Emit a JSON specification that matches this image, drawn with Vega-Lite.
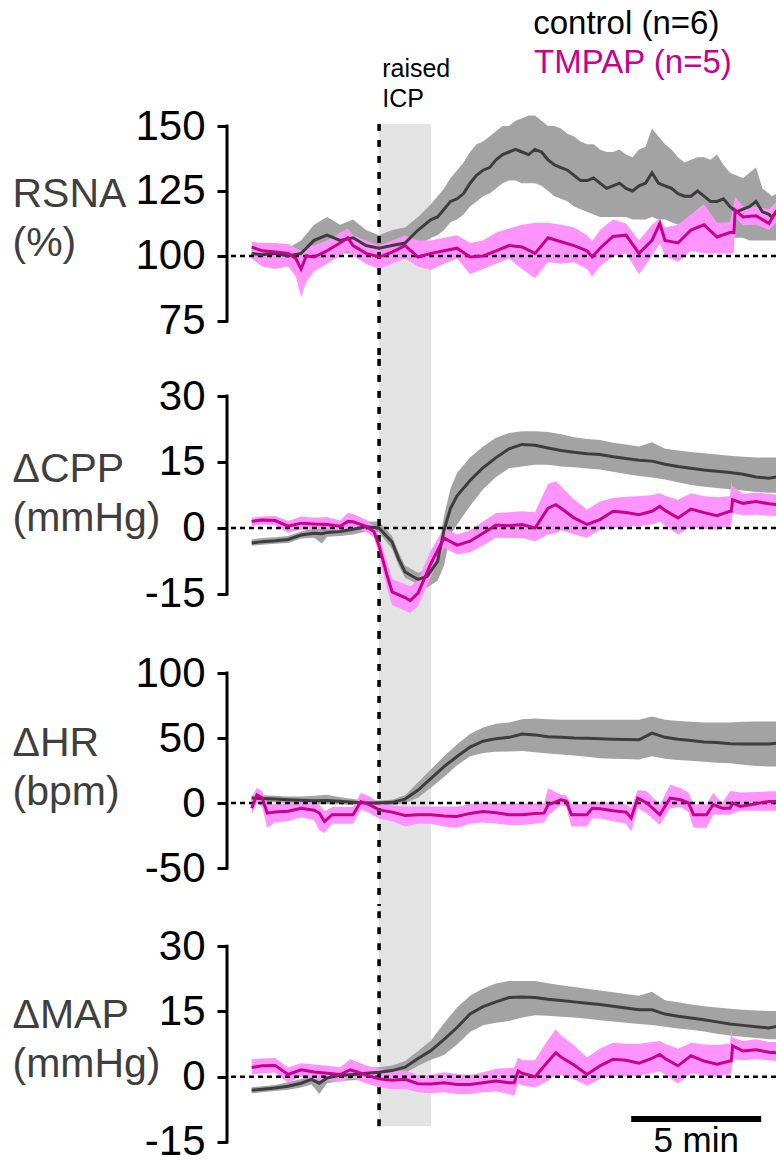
{
"$schema": "https://vega.github.io/schema/vega-lite/v6.json",
"padding": {"left": 12, "top": 8, "right": 0, "bottom": 0},
"background": "white",
"spacing": 0,
"bounds": "flush",
"datasets": {
"rsna_c": [
{"t":-4.9,"m":101,"lo":99,"hi":103},{"t":-4.5,"m":100.5,"lo":98.5,"hi":102.5},{"t":-4,"m":101,"lo":99,"hi":103},{"t":-3.5,"m":100,"lo":98,"hi":103},{"t":-3,"m":101,"lo":99,"hi":106},{"t":-2.5,"m":106,"lo":100,"hi":112},{"t":-2,"m":108,"lo":101,"hi":115},{"t":-1.5,"m":106,"lo":101,"hi":112},{"t":-1,"m":107,"lo":101,"hi":114},{"t":-0.5,"m":104,"lo":100,"hi":110},{"t":0,"m":103,"lo":99,"hi":108},{"t":0.5,"m":104,"lo":99,"hi":110},{"t":1,"m":105,"lo":100,"hi":111},{"t":1.5,"m":110,"lo":104,"hi":115},{"t":2,"m":114,"lo":107,"hi":120},{"t":2.25,"m":115,"lo":108,"hi":123},{"t":2.5,"m":118,"lo":110,"hi":126},{"t":2.75,"m":121,"lo":113,"hi":130},{"t":3,"m":122,"lo":114,"hi":133},{"t":3.25,"m":124,"lo":116,"hi":136},{"t":3.5,"m":128,"lo":119,"hi":140},{"t":3.75,"m":131,"lo":121,"hi":143},{"t":4,"m":133,"lo":123,"hi":144},{"t":4.25,"m":134,"lo":124,"hi":146},{"t":4.5,"m":137,"lo":126,"hi":148},{"t":4.75,"m":139,"lo":128,"hi":150},{"t":5,"m":140,"lo":129,"hi":150},{"t":5.25,"m":141,"lo":129,"hi":152},{"t":5.5,"m":140,"lo":128,"hi":153},{"t":5.75,"m":139,"lo":128,"hi":154},{"t":6,"m":141,"lo":128,"hi":154},{"t":6.25,"m":140,"lo":127,"hi":152},{"t":6.5,"m":137,"lo":125,"hi":150},{"t":6.75,"m":135,"lo":123,"hi":150},{"t":7,"m":134,"lo":122,"hi":149},{"t":7.25,"m":133,"lo":121,"hi":147},{"t":7.5,"m":131,"lo":119,"hi":146},{"t":7.75,"m":129,"lo":118,"hi":144},{"t":8,"m":129,"lo":117,"hi":143},{"t":8.25,"m":130,"lo":116,"hi":143},{"t":8.5,"m":128,"lo":115,"hi":141},{"t":8.75,"m":126,"lo":115,"hi":140},{"t":9,"m":127,"lo":115,"hi":140},{"t":9.25,"m":128,"lo":115,"hi":141},{"t":9.5,"m":126,"lo":115,"hi":139},{"t":9.75,"m":125,"lo":114,"hi":138},{"t":10,"m":127,"lo":114,"hi":141},{"t":10.25,"m":128,"lo":114,"hi":142},{"t":10.5,"m":132,"lo":115,"hi":149},{"t":10.75,"m":128,"lo":114,"hi":146},{"t":11,"m":127,"lo":114,"hi":143},{"t":11.25,"m":126,"lo":113,"hi":141},{"t":11.5,"m":124,"lo":112,"hi":138},{"t":11.75,"m":123,"lo":112,"hi":136},{"t":12,"m":123,"lo":111,"hi":137},{"t":12.25,"m":125,"lo":111,"hi":138},{"t":12.5,"m":123,"lo":110,"hi":138},{"t":12.75,"m":121,"lo":110,"hi":137},{"t":13,"m":121,"lo":109,"hi":139},{"t":13.25,"m":122,"lo":108,"hi":135},{"t":13.5,"m":119,"lo":107,"hi":132},{"t":13.75,"m":117,"lo":107,"hi":131},{"t":14,"m":118,"lo":107,"hi":130},{"t":14.25,"m":119,"lo":106,"hi":132},{"t":14.5,"m":121,"lo":106,"hi":134},{"t":14.75,"m":117,"lo":106,"hi":126},{"t":15,"m":116,"lo":106,"hi":124},{"t":15.1,"m":115,"lo":106,"hi":123},{"t":15.3,"m":117,"lo":106,"hi":124}
],
"rsna_m": [
{"t":-4.9,"m":103.4,"lo":99,"hi":105.5},{"t":-4.5,"m":102,"lo":96,"hi":105},{"t":-4,"m":101.5,"lo":95,"hi":105},{"t":-3.5,"m":101,"lo":96,"hi":104.6},{"t":-3.2,"m":99,"lo":92,"hi":103},{"t":-3,"m":95,"lo":84,"hi":102},{"t":-2.8,"m":100,"lo":90,"hi":104},{"t":-2.5,"m":99.6,"lo":94,"hi":104},{"t":-2,"m":102,"lo":97,"hi":106},{"t":-1.5,"m":105,"lo":100,"hi":109},{"t":-1.2,"m":107,"lo":102,"hi":110.6},{"t":-1,"m":104,"lo":100,"hi":108},{"t":-0.5,"m":101,"lo":97,"hi":106},{"t":0,"m":99.6,"lo":95,"hi":104},{"t":0.5,"m":101.5,"lo":97,"hi":106},{"t":1,"m":104,"lo":99,"hi":108},{"t":1.5,"m":99.6,"lo":96,"hi":106},{"t":2,"m":101,"lo":94.6,"hi":106},{"t":2.5,"m":102,"lo":97,"hi":107},{"t":3,"m":103,"lo":99,"hi":108},{"t":3.5,"m":99.6,"lo":93,"hi":105},{"t":4,"m":100,"lo":95,"hi":106},{"t":4.5,"m":102,"lo":97,"hi":109},{"t":5,"m":104,"lo":99,"hi":110.6},{"t":5.5,"m":103.5,"lo":95,"hi":112},{"t":6,"m":101,"lo":91.4,"hi":112.8},{"t":6.5,"m":107,"lo":97.7,"hi":112.8},{"t":7,"m":105.5,"lo":97,"hi":112},{"t":7.5,"m":104,"lo":97.6,"hi":111},{"t":8,"m":102,"lo":95,"hi":108},{"t":8.2,"m":99.6,"lo":92,"hi":105.8},{"t":8.5,"m":103,"lo":96,"hi":110},{"t":9,"m":107.5,"lo":100,"hi":114},{"t":9.5,"m":108,"lo":101,"hi":112.5},{"t":10,"m":101,"lo":93,"hi":106},{"t":10.5,"m":106,"lo":100,"hi":112},{"t":10.8,"m":112.5,"lo":105,"hi":114.3},{"t":11,"m":106,"lo":100,"hi":111},{"t":11.5,"m":105,"lo":97.7,"hi":112},{"t":12,"m":110,"lo":102,"hi":116},{"t":12.5,"m":112,"lo":101,"hi":120},{"t":13,"m":107.3,"lo":101,"hi":112.8},{"t":13.5,"m":109,"lo":101,"hi":113},{"t":13.65,"m":109,"lo":101,"hi":120},{"t":13.7,"m":117.6,"lo":115,"hi":122.8},{"t":14,"m":115,"lo":111.8,"hi":119},{"t":14.5,"m":115.5,"lo":112,"hi":119},{"t":15,"m":112.5,"lo":110,"hi":118},{"t":15.3,"m":117.6,"lo":113,"hi":121}
],
"cpp_c": [
{"t":-4.9,"m":-3.4,"lo":-4,"hi":-2.6},{"t":-4.5,"m":-3.1,"lo":-3.8,"hi":-2.3},{"t":-4,"m":-2.9,"lo":-3.6,"hi":-2.1},{"t":-3.5,"m":-2.6,"lo":-3.4,"hi":-1.8},{"t":-3,"m":-1.6,"lo":-2.4,"hi":-0.8},{"t":-2.5,"m":-1.2,"lo":-2.2,"hi":-0.2},{"t":-2.2,"m":-1.3,"lo":-3.5,"hi":-0.2},{"t":-2,"m":-1,"lo":-2,"hi":0},{"t":-1.5,"m":-0.8,"lo":-1.8,"hi":0.3},{"t":-1,"m":-0.3,"lo":-1.5,"hi":0.8},{"t":-0.5,"m":0.3,"lo":-0.8,"hi":1.5},{"t":0,"m":0,"lo":-1,"hi":1.5},{"t":0.5,"m":-3.2,"lo":-4.8,"hi":-1.8},{"t":0.75,"m":-7,"lo":-8.5,"hi":-5.5},{"t":1,"m":-10,"lo":-11.3,"hi":-8.5},{"t":1.5,"m":-11.7,"lo":-12.8,"hi":-10.2},{"t":1.85,"m":-11,"lo":-13.5,"hi":-9.5},{"t":2.25,"m":-7.6,"lo":-12,"hi":-6},{"t":2.5,"m":-0.5,"lo":-8.5,"hi":2.8},{"t":2.75,"m":4.5,"lo":-1.5,"hi":9},{"t":3,"m":7.3,"lo":0.8,"hi":12.5},{"t":3.5,"m":10.8,"lo":5,"hi":16},{"t":4,"m":13.7,"lo":8.8,"hi":18.5},{"t":4.5,"m":16,"lo":11.6,"hi":20.5},{"t":5,"m":18,"lo":13.6,"hi":21.6},{"t":5.5,"m":19,"lo":14,"hi":22},{"t":6,"m":18.8,"lo":14.4,"hi":22},{"t":6.5,"m":18.2,"lo":14.4,"hi":21.8},{"t":7,"m":17.6,"lo":14,"hi":21.3},{"t":7.5,"m":17.2,"lo":13.8,"hi":20.6},{"t":8,"m":16.9,"lo":13.5,"hi":20.2},{"t":8.5,"m":16.7,"lo":13.3,"hi":20},{"t":9,"m":16.2,"lo":12.8,"hi":19.4},{"t":9.5,"m":15.8,"lo":12.3,"hi":19},{"t":10,"m":15.4,"lo":11.8,"hi":18.5},{"t":10.5,"m":15.2,"lo":11.5,"hi":19.5},{"t":11,"m":14.5,"lo":11,"hi":18},{"t":11.5,"m":14,"lo":10.4,"hi":17.6},{"t":12,"m":13.6,"lo":9.8,"hi":17.3},{"t":12.5,"m":13.2,"lo":9.4,"hi":17},{"t":13,"m":12.9,"lo":9.1,"hi":16.7},{"t":13.5,"m":12.6,"lo":8.8,"hi":16.4},{"t":14,"m":12.2,"lo":8.5,"hi":16.2},{"t":14.5,"m":11.6,"lo":8.2,"hi":16},{"t":15,"m":11.3,"lo":8,"hi":16},{"t":15.3,"m":11.6,"lo":8,"hi":16}
],
"cpp_m": [
{"t":-4.9,"m":1.5,"lo":0.4,"hi":2.3},{"t":-4.5,"m":1.8,"lo":0.8,"hi":2.6},{"t":-4,"m":1.7,"lo":0.6,"hi":2.7},{"t":-3.5,"m":0.4,"lo":-1.1,"hi":1.6},{"t":-3,"m":1.1,"lo":-0.4,"hi":2.6},{"t":-2.5,"m":0.9,"lo":-0.4,"hi":2.3},{"t":-2,"m":0.8,"lo":-0.3,"hi":2.5},{"t":-1.5,"m":0.4,"lo":-0.9,"hi":1.7},{"t":-1.2,"m":1.5,"lo":0,"hi":3.4},{"t":-1,"m":1.4,"lo":0,"hi":3.2},{"t":-0.5,"m":0.4,"lo":-0.9,"hi":1.9},{"t":-0.2,"m":-0.8,"lo":-2,"hi":0.5},{"t":0,"m":-4,"lo":-6.3,"hi":-1.8},{"t":0.3,"m":-10.6,"lo":-13.6,"hi":-7.6},{"t":0.5,"m":-14.5,"lo":-17.5,"hi":-11.6},{"t":1,"m":-15.8,"lo":-18.8,"hi":-12.8},{"t":1.2,"m":-16.5,"lo":-19.3,"hi":-13.3},{"t":1.5,"m":-14.8,"lo":-17.8,"hi":-11.8},{"t":2,"m":-8,"lo":-11,"hi":-5},{"t":2.5,"m":-2.3,"lo":-4.5,"hi":0},{"t":3,"m":-3.9,"lo":-6,"hi":-1.5},{"t":3.5,"m":-3,"lo":-5.5,"hi":-0.5},{"t":4,"m":-1.2,"lo":-4,"hi":1.5},{"t":4.5,"m":0.7,"lo":-2.2,"hi":3.4},{"t":5,"m":0.5,"lo":-2.3,"hi":3.6},{"t":5.5,"m":0.8,"lo":-2.3,"hi":3.8},{"t":6,"m":0,"lo":-3,"hi":3.6},{"t":6.5,"m":4.5,"lo":-1.5,"hi":10},{"t":6.8,"m":5.3,"lo":-1.2,"hi":10.6},{"t":7,"m":4.5,"lo":-0.5,"hi":9.5},{"t":7.5,"m":2.3,"lo":-1.5,"hi":6.5},{"t":8,"m":0.8,"lo":-2.2,"hi":4.2},{"t":8.5,"m":1.9,"lo":-0.4,"hi":6},{"t":9,"m":3.8,"lo":0,"hi":6.8},{"t":9.5,"m":3.5,"lo":0.3,"hi":7.1},{"t":10,"m":3,"lo":0.4,"hi":7.2},{"t":10.5,"m":3.8,"lo":0.8,"hi":7.5},{"t":10.8,"m":4.9,"lo":1.5,"hi":7.9},{"t":11,"m":4,"lo":0.5,"hi":7.3},{"t":11.5,"m":2.3,"lo":-1.5,"hi":6.4},{"t":12,"m":4.3,"lo":0.2,"hi":7.9},{"t":12.5,"m":3.5,"lo":-0.2,"hi":7.2},{"t":13,"m":2.8,"lo":-0.4,"hi":7},{"t":13.5,"m":3.8,"lo":0.5,"hi":7.2},{"t":13.55,"m":3.8,"lo":0.5,"hi":10.6},{"t":13.6,"m":6.4,"lo":3.4,"hi":9.5},{"t":14,"m":5.6,"lo":2.9,"hi":7.8},{"t":14.5,"m":6,"lo":3,"hi":8},{"t":15,"m":5.5,"lo":2.8,"hi":7.8},{"t":15.3,"m":5.3,"lo":2.7,"hi":7.6}
],
"hr_c": [
{"t":-4.9,"m":3.8,"lo":1,"hi":6},{"t":-4.5,"m":3.5,"lo":1,"hi":6},{"t":-4,"m":3,"lo":0.5,"hi":5.5},{"t":-3.5,"m":2.5,"lo":0,"hi":5},{"t":-3,"m":2.2,"lo":0,"hi":5},{"t":-2.5,"m":1.8,"lo":-0.5,"hi":5.5},{"t":-2,"m":2,"lo":-1,"hi":6.4},{"t":-1.5,"m":1.3,"lo":-1,"hi":4.5},{"t":-1,"m":0.6,"lo":-1.5,"hi":3},{"t":-0.5,"m":0,"lo":-2,"hi":2},{"t":0,"m":0,"lo":-2,"hi":2},{"t":0.5,"m":0.5,"lo":-1.5,"hi":2.5},{"t":1,"m":3,"lo":0,"hi":6},{"t":1.5,"m":10,"lo":4,"hi":16},{"t":2,"m":19,"lo":12,"hi":26},{"t":2.5,"m":28,"lo":20,"hi":36},{"t":3,"m":35.8,"lo":29,"hi":45},{"t":3.5,"m":43,"lo":36,"hi":53},{"t":4,"m":47.5,"lo":38.5,"hi":58},{"t":4.5,"m":49.5,"lo":39.5,"hi":61},{"t":5,"m":50.5,"lo":39.6,"hi":62},{"t":5.5,"m":53,"lo":40,"hi":64.5},{"t":6,"m":52.4,"lo":39,"hi":65},{"t":6.5,"m":51,"lo":38,"hi":64.5},{"t":7,"m":50.5,"lo":37.3,"hi":64},{"t":7.5,"m":50,"lo":36.5,"hi":64},{"t":8,"m":49.8,"lo":35.5,"hi":64},{"t":8.5,"m":49.4,"lo":34.5,"hi":64},{"t":9,"m":49,"lo":34,"hi":64},{"t":9.5,"m":48.8,"lo":33.8,"hi":64},{"t":10,"m":48.6,"lo":33.5,"hi":64},{"t":10.5,"m":53.7,"lo":36,"hi":66.5},{"t":11,"m":50.5,"lo":34,"hi":64},{"t":11.5,"m":49,"lo":33,"hi":63},{"t":12,"m":48,"lo":32.5,"hi":62.5},{"t":12.5,"m":47,"lo":31.8,"hi":62},{"t":13,"m":46.5,"lo":31,"hi":62},{"t":13.5,"m":45.5,"lo":30.6,"hi":62},{"t":14,"m":45.3,"lo":29.5,"hi":62.5},{"t":14.5,"m":45.3,"lo":28.5,"hi":62.7},{"t":15,"m":45.3,"lo":28,"hi":62.7},{"t":15.3,"m":46,"lo":28,"hi":62.7}
],
"hr_m": [
{"t":-4.9,"m":-4,"lo":-9,"hi":4},{"t":-4.7,"m":6.3,"lo":0,"hi":11.8},{"t":-4.5,"m":4,"lo":-3,"hi":9},{"t":-4.3,"m":-7.8,"lo":-19,"hi":0},{"t":-4,"m":-7,"lo":-15,"hi":-1},{"t":-3.5,"m":-6.4,"lo":-14,"hi":0},{"t":-3,"m":-4,"lo":-11,"hi":1.5},{"t":-2.5,"m":-5.5,"lo":-13,"hi":0.5},{"t":-2.3,"m":-7.7,"lo":-21,"hi":-1},{"t":-2.1,"m":-14.2,"lo":-23,"hi":-6.4},{"t":-1.8,"m":-9,"lo":-16,"hi":-3},{"t":-1,"m":-9,"lo":-16,"hi":-3},{"t":-0.7,"m":1.1,"lo":-5,"hi":7.7},{"t":-0.35,"m":-1.4,"lo":-8,"hi":5},{"t":0,"m":-5.3,"lo":-12,"hi":0},{"t":0.5,"m":-7,"lo":-14,"hi":-2},{"t":1,"m":-9.6,"lo":-18,"hi":-2.6},{"t":1.5,"m":-9,"lo":-16,"hi":-2.6},{"t":2,"m":-9,"lo":-16,"hi":-2.6},{"t":2.5,"m":-10,"lo":-18,"hi":-2.6},{"t":3,"m":-10.3,"lo":-19,"hi":-2.6},{"t":3.5,"m":-8,"lo":-16,"hi":-1},{"t":4,"m":-6.5,"lo":-15,"hi":0.5},{"t":4.5,"m":-7.5,"lo":-16,"hi":0},{"t":5,"m":-9,"lo":-17,"hi":-0.5},{"t":5.5,"m":-9,"lo":-17,"hi":-0.2},{"t":6,"m":-8,"lo":-16,"hi":-0.2},{"t":6.35,"m":-7.8,"lo":-15,"hi":-0.2},{"t":6.5,"m":-1.4,"lo":-10,"hi":11.4},{"t":7,"m":2.4,"lo":-1.4,"hi":6.3},{"t":7.2,"m":1.5,"lo":-3,"hi":6},{"t":7.4,"m":-9,"lo":-18,"hi":-1},{"t":8,"m":-9,"lo":-18,"hi":-1},{"t":8.2,"m":-4,"lo":-12,"hi":1.2},{"t":8.5,"m":-4.5,"lo":-12,"hi":0.5},{"t":9,"m":-6,"lo":-14,"hi":0},{"t":9.5,"m":-7,"lo":-16,"hi":-1},{"t":9.7,"m":-11.6,"lo":-22,"hi":-3.8},{"t":9.95,"m":3.8,"lo":-4,"hi":10},{"t":10.3,"m":0,"lo":-8,"hi":9},{"t":10.8,"m":-9,"lo":-17,"hi":-1.5},{"t":11.2,"m":3.8,"lo":-4,"hi":14},{"t":11.6,"m":2.5,"lo":-3,"hi":11.4},{"t":11.9,"m":0,"lo":-7,"hi":8},{"t":12.1,"m":-9,"lo":-19,"hi":-1},{"t":12.6,"m":-9,"lo":-19,"hi":-1},{"t":12.85,"m":-1.3,"lo":-9,"hi":7.7},{"t":13.2,"m":-4,"lo":-9,"hi":0},{"t":13.5,"m":-4,"lo":-9,"hi":9},{"t":13.6,"m":0,"lo":-8,"hi":9},{"t":13.9,"m":-2.6,"lo":-6,"hi":8},{"t":14.5,"m":-0.5,"lo":-6,"hi":8.5},{"t":15,"m":1.2,"lo":-6,"hi":9},{"t":15.3,"m":1.2,"lo":-6,"hi":9}
],
"map_c": [
{"t":-4.9,"m":-3.1,"lo":-3.8,"hi":-2.4},{"t":-4.5,"m":-2.9,"lo":-3.6,"hi":-2.2},{"t":-4,"m":-2.6,"lo":-3.3,"hi":-1.9},{"t":-3.5,"m":-2.2,"lo":-3,"hi":-1.3},{"t":-3,"m":-1.5,"lo":-2.5,"hi":-0.5},{"t":-2.6,"m":-0.6,"lo":-1.8,"hi":0.5},{"t":-2.3,"m":-1.5,"lo":-4,"hi":0.5},{"t":-2,"m":-0.3,"lo":-1.5,"hi":1},{"t":-1.5,"m":0.3,"lo":-1,"hi":1.5},{"t":-1,"m":0.5,"lo":-0.8,"hi":1.8},{"t":-0.5,"m":0.8,"lo":-0.5,"hi":2},{"t":0,"m":1,"lo":-0.3,"hi":2.2},{"t":0.5,"m":1.4,"lo":0.2,"hi":2.6},{"t":1,"m":2.2,"lo":0.8,"hi":3.6},{"t":1.5,"m":4.2,"lo":2.5,"hi":5.9},{"t":2,"m":6,"lo":3.9,"hi":8.3},{"t":2.5,"m":8.6,"lo":5,"hi":12.3},{"t":3,"m":11.3,"lo":7.4,"hi":15.9},{"t":3.5,"m":14.4,"lo":10.3,"hi":18.6},{"t":4,"m":16.1,"lo":11.8,"hi":20.3},{"t":4.5,"m":17.2,"lo":12.4,"hi":21.4},{"t":5,"m":18.2,"lo":12.8,"hi":22},{"t":5.5,"m":18.3,"lo":13.6,"hi":22},{"t":6,"m":18.2,"lo":14.1,"hi":22},{"t":6.5,"m":17.8,"lo":14,"hi":21.5},{"t":7,"m":17.5,"lo":13.8,"hi":21},{"t":7.5,"m":17.2,"lo":13.6,"hi":20.6},{"t":8,"m":16.9,"lo":13.3,"hi":20.2},{"t":8.5,"m":16.6,"lo":13,"hi":19.8},{"t":9,"m":16.2,"lo":12.7,"hi":19.4},{"t":9.5,"m":15.8,"lo":12.4,"hi":19},{"t":10,"m":15.4,"lo":12.1,"hi":18.6},{"t":10.5,"m":15.4,"lo":11.9,"hi":19.5},{"t":11,"m":14.4,"lo":11.5,"hi":17.6},{"t":11.5,"m":13.9,"lo":11.1,"hi":17.1},{"t":12,"m":13.5,"lo":10.8,"hi":16.6},{"t":12.5,"m":13.1,"lo":10.4,"hi":16.2},{"t":13,"m":12.6,"lo":9.9,"hi":15.9},{"t":13.5,"m":12.1,"lo":9.5,"hi":15.6},{"t":14,"m":11.8,"lo":9.2,"hi":15.4},{"t":14.5,"m":11.5,"lo":8.9,"hi":15.2},{"t":15,"m":11.2,"lo":8.6,"hi":15.1},{"t":15.3,"m":11.6,"lo":8.6,"hi":15.1}
],
"map_m": [
{"t":-4.9,"m":2.1,"lo":0.5,"hi":4},{"t":-4.5,"m":2.5,"lo":0.8,"hi":4.2},{"t":-4,"m":2.6,"lo":0.9,"hi":4.3},{"t":-3.5,"m":0.5,"lo":-1.4,"hi":2.1},{"t":-3,"m":1.6,"lo":0,"hi":3.1},{"t":-2.5,"m":1.1,"lo":-0.6,"hi":2.8},{"t":-2,"m":0.8,"lo":-0.8,"hi":2.5},{"t":-1.5,"m":0.5,"lo":-1.2,"hi":2.2},{"t":-1.1,"m":1.6,"lo":-0.1,"hi":4},{"t":-0.5,"m":0.4,"lo":-1.5,"hi":2.6},{"t":0,"m":-0.5,"lo":-2.4,"hi":1.8},{"t":0.5,"m":-0.8,"lo":-2.9,"hi":1.2},{"t":1,"m":-0.6,"lo":-2.8,"hi":1.4},{"t":1.5,"m":-1.6,"lo":-3.6,"hi":0.4},{"t":2,"m":-1.7,"lo":-3.8,"hi":0.4},{"t":2.5,"m":-1.4,"lo":-3.6,"hi":1},{"t":3,"m":-1.8,"lo":-4,"hi":0.6},{"t":3.5,"m":-1.8,"lo":-4,"hi":0.4},{"t":4,"m":-1.4,"lo":-3.6,"hi":1},{"t":4.5,"m":-1,"lo":-3.4,"hi":1.8},{"t":5,"m":-1.4,"lo":-4,"hi":2},{"t":5.2,"m":-1.4,"lo":-4.4,"hi":2.1},{"t":5.35,"m":1.3,"lo":-1.5,"hi":4.4},{"t":5.5,"m":0.8,"lo":-2,"hi":3.8},{"t":6,"m":0,"lo":-2.5,"hi":3.8},{"t":6.5,"m":3.5,"lo":-1,"hi":8.5},{"t":6.8,"m":5.5,"lo":0.4,"hi":10.9},{"t":7,"m":4.5,"lo":0.4,"hi":9.5},{"t":7.5,"m":2.7,"lo":-0.6,"hi":7.2},{"t":8,"m":0.5,"lo":-2.1,"hi":4.4},{"t":8.5,"m":2.5,"lo":-0.5,"hi":6.5},{"t":9,"m":4,"lo":0.2,"hi":7.8},{"t":9.5,"m":3.8,"lo":0.1,"hi":7.6},{"t":10,"m":3.1,"lo":0.2,"hi":7.6},{"t":10.5,"m":4.2,"lo":0.8,"hi":8},{"t":10.8,"m":5.1,"lo":1.3,"hi":8.2},{"t":11,"m":4.2,"lo":0.5,"hi":7.6},{"t":11.5,"m":2.5,"lo":-1.6,"hi":6.4},{"t":12,"m":4.8,"lo":0.8,"hi":7.8},{"t":12.5,"m":3.6,"lo":0.3,"hi":7.4},{"t":13,"m":2.9,"lo":0,"hi":7.3},{"t":13.5,"m":3.6,"lo":0.6,"hi":7.6},{"t":13.55,"m":3.6,"lo":0.6,"hi":10.9},{"t":13.6,"m":7.1,"lo":4,"hi":9},{"t":14,"m":5.9,"lo":3.8,"hi":8.2},{"t":14.5,"m":6.2,"lo":4,"hi":8.6},{"t":15,"m":5.6,"lo":3.8,"hi":8},{"t":15.3,"m":5.5,"lo":3.6,"hi":8}
]
},
"vconcat": [
{
"width": 549, "height": 235,
"layer": [
{"data": {"values": [{"a": 0, "b": 2}]}, "mark": {"type": "rect", "color": "#e3e3e3"}, "encoding": {"x": {"field": "a", "type": "quantitative", "scale": {"domain": [-5.85, 15.27], "nice": false, "zero": false}, "axis": null}, "x2": {"field": "b"}}},
{"data": {"name": "rsna_c"}, "mark": {"type": "area", "color": "#a3a3a3"}, "encoding": {"x": {"field": "t", "type": "quantitative"}, "y": {"field": "lo", "type": "quantitative", "scale": {"domain": [60.38, 150.77], "nice": false, "zero": false}, "axis": {"values": [75, 100, 125, 150], "title": ["RSNA", "(%)"], "titleY": 82}}, "y2": {"field": "hi"}}},
{"data": {"name": "rsna_m"}, "mark": {"type": "area", "color": "#ff94ff"}, "encoding": {"x": {"field": "t", "type": "quantitative"}, "y": {"field": "lo", "type": "quantitative"}, "y2": {"field": "hi"}}},
{"data": {"values": [{"v": 100}]}, "mark": {"type": "rule", "strokeDash": [5, 4], "strokeWidth": 2.5, "color": "black"}, "encoding": {"y": {"field": "v", "type": "quantitative"}}},
{"data": {"values": [{"t": 0}]}, "mark": {"type": "rule", "strokeDash": [7, 9], "strokeWidth": 3.5, "color": "black"}, "encoding": {"x": {"field": "t", "type": "quantitative"}}},
{"data": {"name": "rsna_c"}, "mark": {"type": "line", "color": "#3d3d3d", "strokeWidth": 3}, "encoding": {"x": {"field": "t", "type": "quantitative"}, "y": {"field": "m", "type": "quantitative"}}},
{"data": {"name": "rsna_m"}, "mark": {"type": "line", "color": "#c8008c", "strokeWidth": 3}, "encoding": {"x": {"field": "t", "type": "quantitative"}, "y": {"field": "m", "type": "quantitative"}}},
{"data": {"values": [{}]}, "mark": {"type": "rule", "strokeWidth": 3, "color": "black", "strokeCap": "square"}, "encoding": {"x": {"datum": -5.85}, "y": {"datum": 75}, "y2": {"datum": 150}}},
{"data": {"values": [{}]}, "mark": {"type": "text", "align": "left", "baseline": "alphabetic", "fontSize": 33, "color": "black"}, "encoding": {"x": {"datum": 5.93}, "y": {"datum": 185.3}, "text": {"value": "control (n=6)"}}},
{"data": {"values": [{}]}, "mark": {"type": "text", "align": "left", "baseline": "alphabetic", "fontSize": 33, "color": "#c8008c"}, "encoding": {"x": {"datum": 5.96}, "y": {"datum": 170.3}, "text": {"value": "TMPAP (n=5)"}}},
{"data": {"values": [{}]}, "mark": {"type": "text", "align": "left", "baseline": "alphabetic", "fontSize": 25, "lineHeight": 30, "color": "black"}, "encoding": {"x": {"datum": 0.12}, "y": {"datum": 168.7}, "text": {"value": ["raised", "ICP"]}}}
]
},
{
"width": 549, "height": 273,
"layer": [
{"data": {"values": [{"a": 0, "b": 2}]}, "mark": {"type": "rect", "color": "#e3e3e3"}, "encoding": {"x": {"field": "a", "type": "quantitative", "scale": {"domain": [-5.85, 15.27], "nice": false, "zero": false}, "axis": null}, "x2": {"field": "b"}}},
{"data": {"name": "cpp_c"}, "mark": {"type": "area", "color": "#a3a3a3"}, "encoding": {"x": {"field": "t", "type": "quantitative"}, "y": {"field": "lo", "type": "quantitative", "scale": {"domain": [-23.64, 38.41], "nice": false, "zero": false}, "axis": {"values": [-15, 0, 15, 30], "title": ["\u0394CPP", "(mmHg)"], "titleY": 122}}, "y2": {"field": "hi"}}},
{"data": {"name": "cpp_m"}, "mark": {"type": "area", "color": "#ff94ff"}, "encoding": {"x": {"field": "t", "type": "quantitative"}, "y": {"field": "lo", "type": "quantitative"}, "y2": {"field": "hi"}}},
{"data": {"values": [{"v": 0}]}, "mark": {"type": "rule", "strokeDash": [5, 4], "strokeWidth": 2.5, "color": "black"}, "encoding": {"y": {"field": "v", "type": "quantitative"}}},
{"data": {"values": [{"t": 0}]}, "mark": {"type": "rule", "strokeDash": [7, 9], "strokeWidth": 3.5, "color": "black"}, "encoding": {"x": {"field": "t", "type": "quantitative"}}},
{"data": {"name": "cpp_c"}, "mark": {"type": "line", "color": "#3d3d3d", "strokeWidth": 3}, "encoding": {"x": {"field": "t", "type": "quantitative"}, "y": {"field": "m", "type": "quantitative"}}},
{"data": {"name": "cpp_m"}, "mark": {"type": "line", "color": "#c8008c", "strokeWidth": 3}, "encoding": {"x": {"field": "t", "type": "quantitative"}, "y": {"field": "m", "type": "quantitative"}}},
{"data": {"values": [{}]}, "mark": {"type": "rule", "strokeWidth": 3, "color": "black", "strokeCap": "square"}, "encoding": {"x": {"datum": -5.85}, "y": {"datum": -15}, "y2": {"datum": 30}}}
]
},
{
"width": 549, "height": 274,
"layer": [
{"data": {"values": [{"a": 0, "b": 2}]}, "mark": {"type": "rect", "color": "#e3e3e3"}, "encoding": {"x": {"field": "a", "type": "quantitative", "scale": {"domain": [-5.85, 15.27], "nice": false, "zero": false}, "axis": null}, "x2": {"field": "b"}}},
{"data": {"name": "hr_c"}, "mark": {"type": "area", "color": "#a3a3a3"}, "encoding": {"x": {"field": "t", "type": "quantitative"}, "y": {"field": "lo", "type": "quantitative", "scale": {"domain": [-79.23, 131.54], "nice": false, "zero": false}, "axis": {"values": [-50, 0, 50, 100], "title": ["\u0394HR", "(bpm)"], "titleY": 123}}, "y2": {"field": "hi"}}},
{"data": {"name": "hr_m"}, "mark": {"type": "area", "color": "#ff94ff"}, "encoding": {"x": {"field": "t", "type": "quantitative"}, "y": {"field": "lo", "type": "quantitative"}, "y2": {"field": "hi"}}},
{"data": {"values": [{"v": 0}]}, "mark": {"type": "rule", "strokeDash": [5, 4], "strokeWidth": 2.5, "color": "black"}, "encoding": {"y": {"field": "v", "type": "quantitative"}}},
{"data": {"values": [{"t": 0}]}, "mark": {"type": "rule", "strokeDash": [7, 9], "strokeWidth": 3.5, "color": "black"}, "encoding": {"x": {"field": "t", "type": "quantitative"}}},
{"data": {"name": "hr_c"}, "mark": {"type": "line", "color": "#3d3d3d", "strokeWidth": 3}, "encoding": {"x": {"field": "t", "type": "quantitative"}, "y": {"field": "m", "type": "quantitative"}}},
{"data": {"name": "hr_m"}, "mark": {"type": "line", "color": "#c8008c", "strokeWidth": 3}, "encoding": {"x": {"field": "t", "type": "quantitative"}, "y": {"field": "m", "type": "quantitative"}}},
{"data": {"values": [{}]}, "mark": {"type": "rule", "strokeWidth": 3, "color": "black", "strokeCap": "square"}, "encoding": {"x": {"datum": -5.85}, "y": {"datum": -50}, "y2": {"datum": 100}}}
]
},
{
"width": 549, "height": 240,
"layer": [
{"data": {"values": [{"a": 0, "b": 2}]}, "mark": {"type": "rect", "color": "#e3e3e3"}, "encoding": {"x": {"field": "a", "type": "quantitative", "scale": {"domain": [-5.85, 15.27], "nice": false, "zero": false}, "axis": null}, "x2": {"field": "b"}, "y": {"datum": -11.4, "type": "quantitative", "scale": {"domain": [-15.93, 39.24], "nice": false, "zero": false}, "axis": {"values": [-15, 0, 15, 30], "title": ["\u0394MAP", "(mmHg)"], "titleY": 121}}, "y2": {"datum": 39.24}}},
{"data": {"name": "map_c"}, "mark": {"type": "area", "color": "#a3a3a3"}, "encoding": {"x": {"field": "t", "type": "quantitative"}, "y": {"field": "lo", "type": "quantitative"}, "y2": {"field": "hi"}}},
{"data": {"name": "map_m"}, "mark": {"type": "area", "color": "#ff94ff"}, "encoding": {"x": {"field": "t", "type": "quantitative"}, "y": {"field": "lo", "type": "quantitative"}, "y2": {"field": "hi"}}},
{"data": {"values": [{"v": 0}]}, "mark": {"type": "rule", "strokeDash": [5, 4], "strokeWidth": 2.5, "color": "black"}, "encoding": {"y": {"field": "v", "type": "quantitative"}}},
{"data": {"values": [{"t": 0}]}, "mark": {"type": "rule", "strokeDash": [7, 9], "strokeWidth": 3.5, "color": "black"}, "encoding": {"x": {"field": "t", "type": "quantitative"}, "y": {"datum": -11.4}, "y2": {"datum": 39.24}}},
{"data": {"name": "map_c"}, "mark": {"type": "line", "color": "#3d3d3d", "strokeWidth": 3}, "encoding": {"x": {"field": "t", "type": "quantitative"}, "y": {"field": "m", "type": "quantitative"}}},
{"data": {"name": "map_m"}, "mark": {"type": "line", "color": "#c8008c", "strokeWidth": 3}, "encoding": {"x": {"field": "t", "type": "quantitative"}, "y": {"field": "m", "type": "quantitative"}}},
{"data": {"values": [{}]}, "mark": {"type": "rule", "strokeWidth": 3, "color": "black", "strokeCap": "square"}, "encoding": {"x": {"datum": -5.85}, "y": {"datum": -15}, "y2": {"datum": 30}}},
{"data": {"values": [{}]}, "mark": {"type": "rule", "strokeWidth": 6, "color": "black"}, "encoding": {"x": {"datum": 9.7}, "x2": {"datum": 14.7}, "y": {"datum": -9.7}}},
{"data": {"values": [{}]}, "mark": {"type": "text", "align": "center", "baseline": "alphabetic", "fontSize": 35, "color": "black"}, "encoding": {"x": {"datum": 12.2}, "y": {"datum": -17.4}, "text": {"value": "5 min"}}}
]
}
],
"config": {
"font": "Liberation Sans",
"view": {"stroke": null},
"axis": {"grid": false},
"axisY": {"domain": false, "ticks": true, "tickSize": 10, "tickWidth": 3, "tickColor": "black", "labelFontSize": 42, "labelColor": "black", "labelPadding": 12, "labelFlush": false, "labelOverlap": false, "labelExpr": "replace(datum.label, '\u2212', '-')", "titleAngle": 0, "titleAlign": "left", "titleBaseline": "alphabetic", "titleX": -215, "titleFontSize": 41, "titleFontWeight": "normal", "titleColor": "#3f3f3f", "titleLineHeight": 49}
}
}
